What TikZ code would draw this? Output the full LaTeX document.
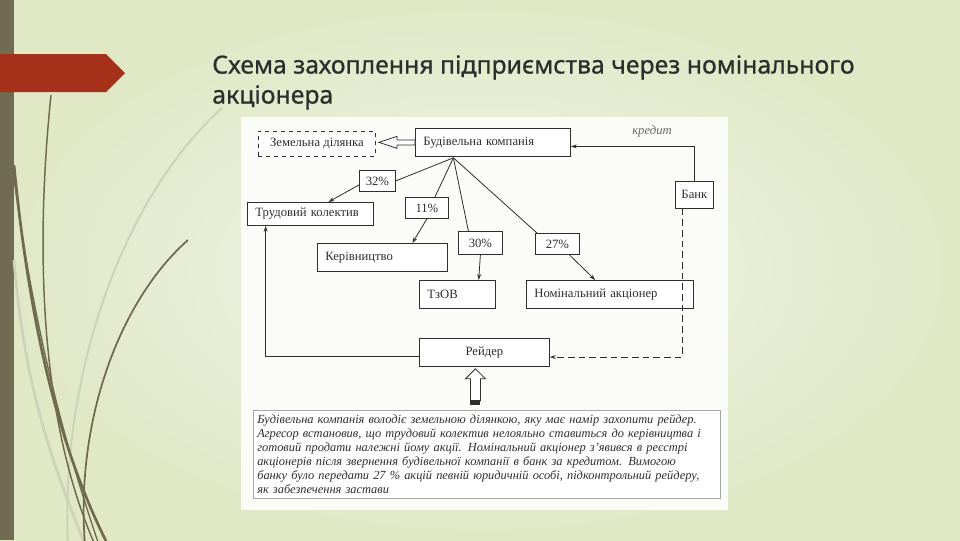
\documentclass[tikz,border=0pt]{standalone}
\usepackage{fontspec}
\setmainfont{Liberation Serif}
\newfontfamily\titlefont[FakeBold=0.8]{Noto Sans}
\usetikzlibrary{arrows.meta,calc}
\definecolor{bgdark}{HTML}{E0E8C6}
\definecolor{bglight}{HTML}{F3F5EA}
\definecolor{barcol}{HTML}{716B52}
\definecolor{redcol}{HTML}{A6311A}
\definecolor{grasscol}{HTML}{6F6A4F}
\definecolor{grasslight}{HTML}{CDD3B8}
\definecolor{inkcol}{HTML}{2E2E2E}
\definecolor{scancol}{HTML}{FBFBF8}

\begin{document}
\begin{tikzpicture}[x=0.75pt,y=-0.75pt,
    >={Stealth[length=4.5pt,width=3pt]},
    box/.style={draw=inkcol, line width=0.6pt, fill=white, anchor=north west, inner sep=0pt,
      text=inkcol, font=\fontsize{9.5}{11}\selectfont},
    lbox/.style={box, align=left, inner xsep=6pt},
    link/.style={draw=inkcol, line width=0.6pt},
  ]
  \useasboundingbox (0,0) rectangle (960,540);
  % фон слайда
  \shade[inner color=bglight, outer color=bgdark] (0,0) rectangle (960,540);
  \fill[barcol] (0,0) rectangle (14,540);
  \fill[redcol] (0,54) -- (106,54) -- (125,73) -- (106,92) -- (0,92) -- cycle;
  % стебла
  \draw[grasslight, line width=1.5pt] (222,108) .. controls (120,200) and (60,380) .. (68,545);
  \draw[grasslight, line width=2pt] (14,260) .. controls (25,400) and (60,480) .. (85,545);
  \draw[grasscol, line width=2pt] (14,165) .. controls (30,330) and (60,450) .. (108,545);
  \draw[grasscol, line width=1pt] (14,178) .. controls (35,340) and (70,460) .. (99,545);
  \draw[grasscol, line width=1.1pt] (51,95) .. controls (35,250) and (40,420) .. (95,545);
  \draw[grasscol, line width=1.3pt] (188,240) .. controls (120,300) and (75,420) .. (85,545);
  % заголовок
  \node[anchor=north west, inner sep=0pt, align=left, text=inkcol,
    font=\titlefont\fontsize{18.6}{22.5}\selectfont] (title) at (212,55)
    {Схема захоплення підприємства через номінального\\акціонера};
  % скан схеми
  \fill[scancol] (241,117) rectangle (728,510);

  % вузли
  \node[box, dashed, minimum width=87.75pt, minimum height=18.75pt] (zem) at (258,131) {Земельна ділянка};
  \node[lbox, text width=104.25pt, minimum height=21pt] (bud) at (415,128) {Будівельна компанія};
  \node[box, minimum width=28.5pt, minimum height=20.25pt] (bank) at (675,181) {Банк};
  \node[box, minimum width=27pt, minimum height=15.75pt] (p32) at (359,170) {32\%};
  \node[lbox, text width=82.5pt, minimum height=17.25pt] (trud) at (247,202) {Трудовий колектив};
  \node[box, minimum width=32.25pt, minimum height=15.75pt] (p11) at (405,197) {11\%};
  \node[lbox, text width=85.5pt, minimum height=21pt] (ker) at (317,243) {Керівництво};
  \node[box, minimum width=33pt, minimum height=17.25pt] (p30) at (458,231) {30\%};
  \node[box, minimum width=33pt, minimum height=15.75pt] (p27) at (535,233) {27\%};
  \node[lbox, text width=45pt, minimum height=21pt] (tzov) at (419,280) {ТзОВ};
  \node[lbox, text width=113.25pt, minimum height=21pt] (nom) at (526,280) {Номінальний акціонер};
  \node[box, minimum width=97.5pt, minimum height=21pt] (raider) at (419,338) {Рейдер};
  \node[text=gray!80!black, font=\itshape\fontsize{9.5}{11}\selectfont] (kred) at (652,131) {кредит};
  \node[box, draw=gray!70, line width=0.4pt, align=left, text width=344pt, inner xsep=3pt, inner ysep=3.5pt,
    minimum height=62.25pt, font=\itshape\fontsize{9.3}{10.5}\selectfont] (note) at (253,410)
    {Будівельна компанія володіє земельною ділянкою, яку має намір захопити рейдер.\\
     Агресор встановив, що трудовий колектив нелояльно ставиться до керівництва і\\
     готовий продати належні йому акції. Номінальний акціонер з’явився в реєстрі\\
     акціонерів після звернення будівельної компанії в банк за кредитом. Вимогою\\
     банку було передати 27 \% акцій певній юридичній особі, підконтрольний рейдеру,\\
     як забезпечення застави};

  % частки
  \coordinate (hub) at ($(bud.south)+(-39.5,1)$);
  \draw[link] (hub) -- (p32.east);
  \draw[link,->] ([yshift=-3pt]p32.west) -- ([xshift=13.5pt]trud.north);
  \draw[link] (hub) -- ([xshift=6pt]p11.north);
  \draw[link,->] (p11.south) -- ([xshift=22.5pt]ker.north);
  \draw[link] (hub) -- ([xshift=-9pt]p30.north);
  \draw[link,->] (p30.south) -- ([xshift=16pt]tzov.north);
  \draw[link] (hub) -- ([xshift=1.5pt]p27.north west);
  \draw[link,->] ([xshift=9pt]p27.south) -- ([xshift=-11pt]nom.north);

  % кредит і застава
  \draw[link,->] (bank.north) |- ([yshift=-3pt]bud.east);
  \draw[link,->,dash pattern=on 5pt off 3pt] ([xshift=-9pt]bank.south) |- ([yshift=-3.5pt]raider.east);
  \draw[link,->] ([yshift=-3pt]raider.west) -| ([xshift=14pt]trud.south west);

  % контурні стрілки
  \draw[link, fill=white] ($(bud.west)+(0,-2.5)$) -- ++(-18,0) -- ++(0,-3.5) -- ++(-18,6)
    -- ++(18,6) -- ++(0,-3.5) -- ++(18,0) -- cycle;
  \coordinate (up) at ($(raider.south)+(-9,2)$);
  \draw[link, fill=white] (up) -- ++(10,10) -- ++(-5,0) -- ++(0,22) -- ++(-10,0)
    -- ++(0,-22) -- ++(-5,0) -- cycle;
  \fill[inkcol] ($(up)+(-5,31)$) rectangle ($(up)+(5,36)$);
\end{tikzpicture}
\end{document}
